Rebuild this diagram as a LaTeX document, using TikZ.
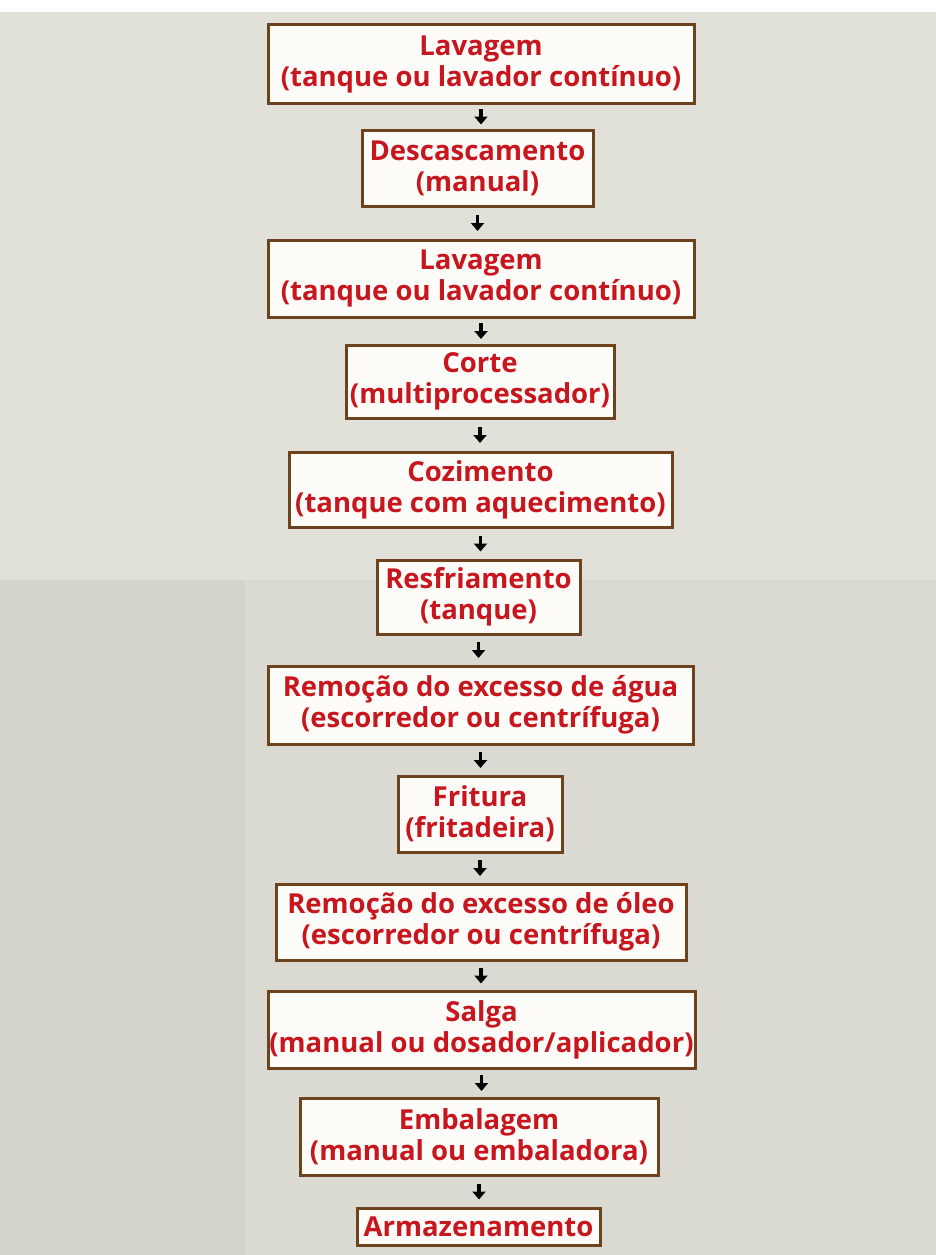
\documentclass[tikz,border=0pt]{standalone}
\usepackage{fontspec}
\setmainfont{Open Sans}
\usetikzlibrary{arrows.meta,calc}
\definecolor{bgA}{HTML}{E1E1DA}
\definecolor{bgB}{HTML}{DADAD2}
\definecolor{bgC}{HTML}{D4D4CC}
\definecolor{boxred}{HTML}{C8161E}
\definecolor{boxline}{HTML}{6E421C}
\definecolor{boxfill}{HTML}{FDFCF9}
\tikzset{
  stepbox/.style={draw=boxline, line width=3pt, fill=boxfill, inner sep=0pt,
    align=center, text=boxred, font=\fontsize{27.5}{31}\selectfont\bfseries},
  flowarrow/.style={-{Triangle[length=8pt,width=13pt]}, line width=3.5pt, black}
}
\begin{document}
\begin{tikzpicture}[x=1pt,y=-1pt]
\useasboundingbox (0,0) rectangle (936,1255);
\fill[white] (0,0) rectangle (936,1255);
\fill[bgA] (0,12) rectangle (936,1255);
\fill[bgB] (245,580) rectangle (936,1255);
\fill[bgC] (0,580) rectangle (245,1255);
\node[stepbox, minimum width=426, minimum height=78] (n1) at (481,64) {Lavagem\\(tanque ou lavador contínuo)};
\node[stepbox, minimum width=231, minimum height=76] (n2) at (477.5,168) {Descascamento\\(manual)};
\node[stepbox, minimum width=426, minimum height=77] (n3) at (481,278.5) {Lavagem\\(tanque ou lavador contínuo)};
\node[stepbox, minimum width=268, minimum height=73] (n4) at (480,381.5) {Corte\\(multiprocessador)};
\node[stepbox, minimum width=383, minimum height=75] (n5) at (480.5,489.5) {Cozimento\\(tanque com aquecimento)};
\node[stepbox, minimum width=203, minimum height=74] (n6) at (478.5,597) {Resfriamento\\(tanque)};
\node[stepbox, minimum width=425, minimum height=78] (n7) at (480.5,705) {Remoção do excesso de água\\(escorredor ou centrífuga)};
\node[stepbox, minimum width=164, minimum height=76] (n8) at (480,814) {Fritura\\(fritadeira)};
\node[stepbox, minimum width=410, minimum height=76] (n9) at (481,922) {Remoção do excesso de óleo\\(escorredor ou centrífuga)};
\node[stepbox, minimum width=427, minimum height=77] (n10) at (481.5,1029.5) {Salga\\(manual ou dosador/aplicador)};
\node[stepbox, minimum width=358, minimum height=77] (n11) at (479,1136.5) {Embalagem\\(manual ou embaladora)};
\node[stepbox, minimum width=243, minimum height=37] (n12) at (478.5,1226.5) {Armazenamento};
\foreach \a/\b in {n1/n2,n2/n3,n3/n4,n4/n5,n5/n6,n6/n7,n7/n8,n8/n9,n9/n10,n10/n11,n11/n12}
  \draw[flowarrow] ($(\a.south)!0.5!(\a.south |- \b.north)+(0,-8)$) -- ($(\a.south)!0.5!(\a.south |- \b.north)+(0,8)$);
\end{tikzpicture}
\end{document}
